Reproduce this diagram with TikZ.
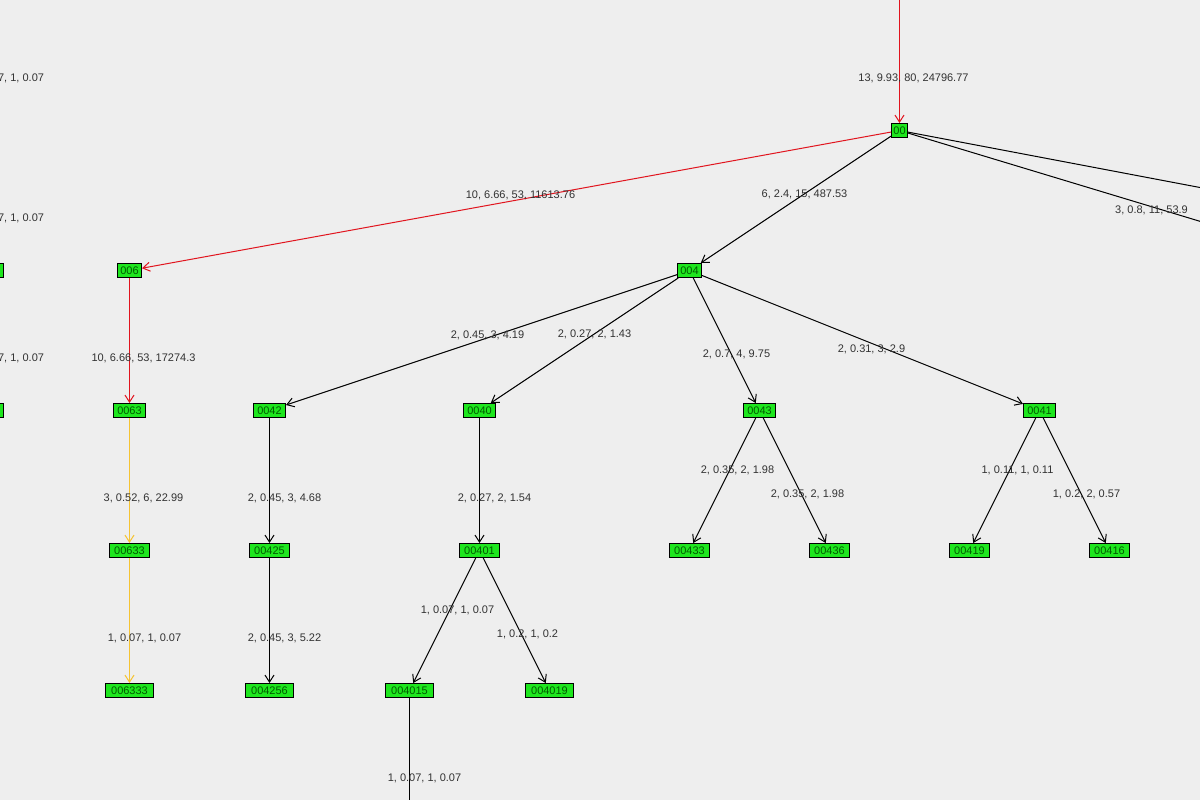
\documentclass[tikz,border=0pt]{standalone}
\usepackage{fontspec}
\setmainfont{Liberation Sans}
\usetikzlibrary{arrows.meta}
\definecolor{bg}{RGB}{238,238,238}
\definecolor{ngreen}{RGB}{30,230,30}
\definecolor{tgreen}{RGB}{0,90,0}
\definecolor{ered}{RGB}{225,20,30}
\definecolor{eyel}{RGB}{245,195,50}
\definecolor{lab}{RGB}{50,50,50}
\begin{document}
\begin{tikzpicture}[x=1pt,y=-1pt,line width=1pt,
  nd/.style={draw=black,fill=ngreen,text=tgreen,font=\fontsize{11}{12}\selectfont,inner sep=0pt,minimum height=14pt,text depth=0pt,text height=8pt,minimum width=#1},
  nd/.default=32pt,
  lb/.style={text=lab,font=\fontsize{11}{12}\selectfont,inner sep=0pt},
  ed/.style={color=black,-{Straight Barb[length=7pt,width=9pt]}},
  re/.style={ed,color=ered},
  ye/.style={ed,color=eyel}]
\fill[bg] (0,0) rectangle (1200,800);
\useasboundingbox (0,0) rectangle (1200,800);
\begin{scope}
\clip (0,0) rectangle (1200,800);
\begin{scope}[shift={(0.5,0.5)}]
\node[nd=16pt] (n00) at (899,130) {00};
\node[nd=24pt] (n006) at (129,270) {006};
\node[nd=24pt] (n004) at (689,270) {004};
\node[nd=24pt] (lA) at (-9,270) {};
\node[nd=24pt] (lB) at (-9,410) {};
\node[nd] (n0063) at (129,410) {0063};
\node[nd] (n0042) at (269,410) {0042};
\node[nd] (n0040) at (479,410) {0040};
\node[nd] (n0043) at (759,410) {0043};
\node[nd] (n0041) at (1039,410) {0041};
\node[nd=40pt] (n00633) at (129,550) {00633};
\node[nd=40pt] (n00425) at (269,550) {00425};
\node[nd=40pt] (n00401) at (479,550) {00401};
\node[nd=40pt] (n00433) at (689,550) {00433};
\node[nd=40pt] (n00436) at (829,550) {00436};
\node[nd=40pt] (n00419) at (969,550) {00419};
\node[nd=40pt] (n00416) at (1109,550) {00416};
\node[nd=48pt] (n006333) at (129,690) {006333};
\node[nd=48pt] (n004256) at (269,690) {004256};
\node[nd=48pt] (n004015) at (409,690) {004015};
\node[nd=48pt] (n004019) at (549,690) {004019};
\coordinate (top) at (899,-5);
\coordinate (r1) at (1210,189);
\coordinate (r2) at (1210,224);
\coordinate (bot) at (409,810);
\draw[re] (top) -- (n00);
\draw[re] (n00) -- (n006);
\draw[ed] (n00) -- (n004);
\draw (n00) -- (r1);
\draw (n00) -- (r2);
\draw[re] (n006) -- (n0063);
\draw[ye] (n0063) -- (n00633);
\draw[ye] (n00633) -- (n006333);
\draw[ed] (n004) -- (n0042);
\draw[ed] (n004) -- (n0040);
\draw[ed] (n004) -- (n0043);
\draw[ed] (n004) -- (n0041);
\draw[ed] (n0042) -- (n00425);
\draw[ed] (n00425) -- (n004256);
\draw[ed] (n0040) -- (n00401);
\draw[ed] (n00401) -- (n004015);
\draw[ed] (n00401) -- (n004019);
\draw[ed] (n0043) -- (n00433);
\draw[ed] (n0043) -- (n00436);
\draw[ed] (n0041) -- (n00419);
\draw[ed] (n0041) -- (n00416);
\draw (n004015) -- (bot);
\node[lb,anchor=east] (la1) at (44,78) {7, 1, 0.07};
\node[lb,anchor=east] (la2) at (44,218) {7, 1, 0.07};
\node[lb,anchor=east] (la3) at (44,358) {7, 1, 0.07};
\node[lb] (l1) at (913,78) {13, 9.93, 80, 24796.77};
\node[lb] (l2) at (520,195) {10, 6.66, 53, 11613.76};
\node[lb] (l3) at (804,194) {6, 2.4, 15, 487.53};
\node[lb] (l4) at (1151,210) {3, 0.8, 11, 53.9};
\node[lb] (l5) at (143,358) {10, 6.66, 53, 17274.3};
\node[lb] (l6) at (487,335) {2, 0.45, 3, 4.19};
\node[lb] (l7) at (594,334) {2, 0.27, 2, 1.43};
\node[lb] (l8) at (736,354) {2, 0.7, 4, 9.75};
\node[lb] (l9) at (871,349) {2, 0.31, 3, 2.9};
\node[lb] (l10) at (143,498) {3, 0.52, 6, 22.99};
\node[lb] (l11) at (284,498) {2, 0.45, 3, 4.68};
\node[lb] (l12) at (494,498) {2, 0.27, 2, 1.54};
\node[lb] (l13) at (737,470) {2, 0.35, 2, 1.98};
\node[lb] (l14) at (807,494) {2, 0.35, 2, 1.98};
\node[lb] (l15) at (1017,470) {1, 0.11, 1, 0.11};
\node[lb] (l16) at (1086,494) {1, 0.2, 2, 0.57};
\node[lb] (l17) at (144,638) {1, 0.07, 1, 0.07};
\node[lb] (l18) at (284,638) {2, 0.45, 3, 5.22};
\node[lb] (l19) at (457,610) {1, 0.07, 1, 0.07};
\node[lb] (l20) at (527,634) {1, 0.2, 1, 0.2};
\node[lb] (l21) at (424,778) {1, 0.07, 1, 0.07};
\end{scope}
\end{scope}
\end{tikzpicture}
\end{document}
